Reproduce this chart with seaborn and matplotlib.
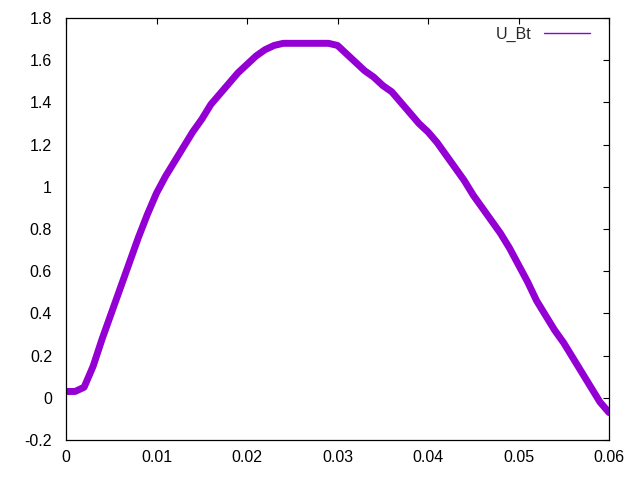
import pandas as pd
import seaborn as sns
import matplotlib.pyplot as plt

# time (s) and U_Bt values, one every 1 ms
t = [i / 1000 for i in range(61)]
u_bt = [0.03, 0.03, 0.05, 0.15, 0.28, 0.40, 0.52, 0.64, 0.76, 0.87,
        0.97, 1.05, 1.12, 1.19, 1.26, 1.32, 1.39, 1.44, 1.49, 1.54,
        1.58, 1.62, 1.65, 1.67, 1.68, 1.68, 1.68, 1.68, 1.68, 1.68,
        1.67, 1.63, 1.59, 1.55, 1.52, 1.48, 1.45, 1.40, 1.35, 1.30,
        1.26, 1.21, 1.15, 1.09, 1.03, 0.96, 0.90, 0.84, 0.78, 0.71,
        0.63, 0.55, 0.46, 0.39, 0.32, 0.26, 0.19, 0.12, 0.05, -0.02,
        -0.07]
xticks = [0, 0.01, 0.02, 0.03, 0.04, 0.05, 0.06]
xtick_labels = ["0", "0.01", "0.02", "0.03", "0.04", "0.05", "0.06"]
yticks = [-0.2, 0, 0.2, 0.4, 0.6, 0.8, 1, 1.2, 1.4, 1.6, 1.8]
ytick_labels = ["-0.2", "0", "0.2", "0.4", "0.6", "0.8", "1", "1.2", "1.4", "1.6", "1.8"]

df = pd.DataFrame({"t": t, "U_Bt": u_bt})

sns.set_style("white")
plt.rcParams['font.family'] = ['Liberation Sans', 'DejaVu Sans']

fig = plt.figure(figsize=(6.4, 4.8), dpi=100)
ax = fig.add_axes([66 / 640, 40 / 480, 543 / 640, 422 / 480])

sns.lineplot(data=df, x="t", y="U_Bt", color="#9400d3", linewidth=5,
             label="U_Bt", ax=ax)

ax.set_xlim(0, 0.06)
ax.set_ylim(-0.2, 1.8)
ax.set_xticks(xticks)
ax.set_xticklabels(xtick_labels)
ax.set_yticks(yticks)
ax.set_yticklabels(ytick_labels)
ax.set_xlabel("")
ax.set_ylabel("")
ax.tick_params(direction="in", length=4, width=0.8, top=True, right=True,
               labelsize=11.5, colors="black")
ax.tick_params(axis="x", pad=7)
ax.tick_params(axis="y", pad=10)
for s in ax.spines.values():
    s.set_color("black")
    s.set_linewidth(0.9)

leg = ax.legend(loc="upper right", bbox_to_anchor=(0.977, 0.995), frameon=False,
                markerfirst=False, handlelength=2.9, handletextpad=0.75,
                fontsize=11.5, borderaxespad=0)
for h in leg.get_lines():
    h.set_linewidth(1)

fig.savefig("out.png", dpi=100)
